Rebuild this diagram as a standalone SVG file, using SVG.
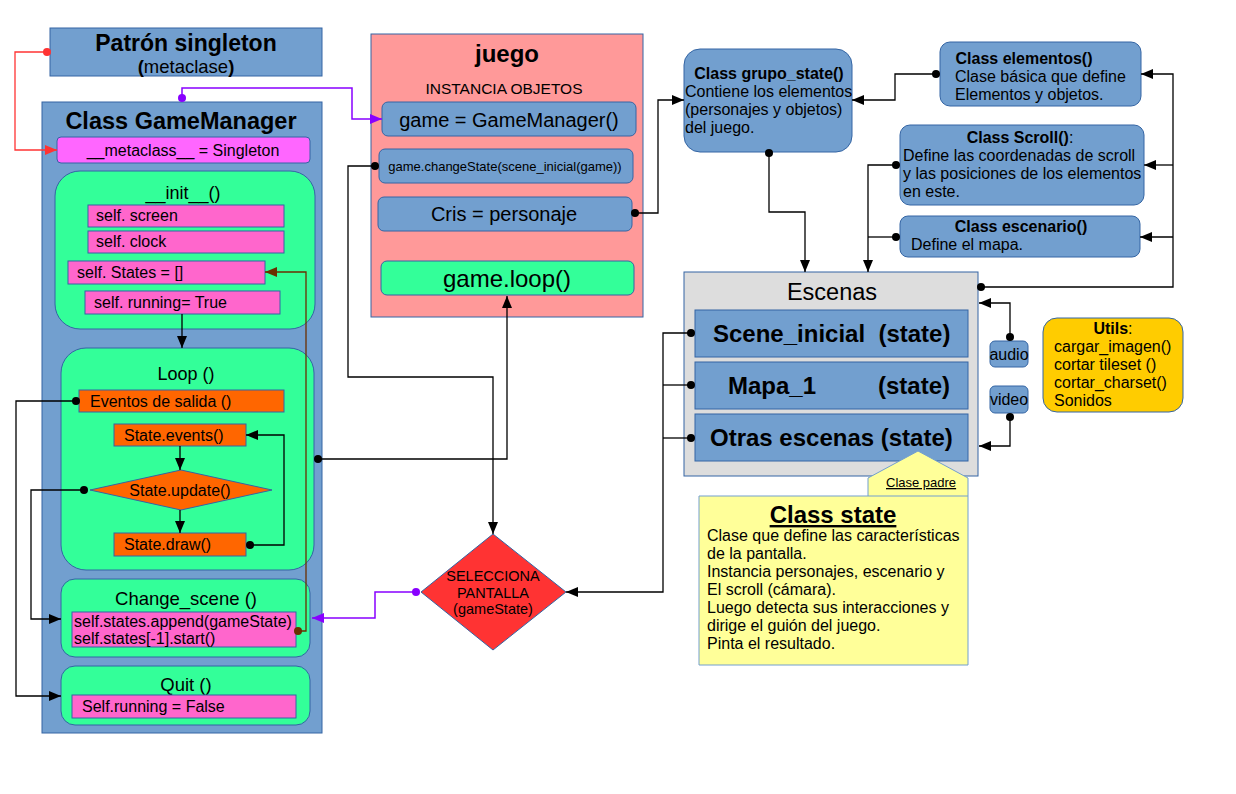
<svg xmlns="http://www.w3.org/2000/svg" width="1236" height="794" viewBox="0 0 1236 794">
<defs>
<marker id="ab" markerUnits="userSpaceOnUse" markerWidth="13" markerHeight="11" refX="12" refY="5" orient="auto"><path d="M0,0 L12,5 L0,10 z" fill="#000"/></marker>
<marker id="db" markerUnits="userSpaceOnUse" markerWidth="9" markerHeight="9" refX="4.5" refY="4.5"><circle cx="4.5" cy="4.5" r="4" fill="#000"/></marker>
<marker id="ar" markerUnits="userSpaceOnUse" markerWidth="13" markerHeight="11" refX="12" refY="5" orient="auto"><path d="M0,0 L12,5 L0,10 z" fill="#ff3333"/></marker>
<marker id="dr" markerUnits="userSpaceOnUse" markerWidth="9" markerHeight="9" refX="4.5" refY="4.5"><circle cx="4.5" cy="4.5" r="4" fill="#ff3333"/></marker>
<marker id="ap" markerUnits="userSpaceOnUse" markerWidth="13" markerHeight="11" refX="12" refY="5" orient="auto"><path d="M0,0 L12,5 L0,10 z" fill="#8800ff"/></marker>
<marker id="dp" markerUnits="userSpaceOnUse" markerWidth="9" markerHeight="9" refX="4.5" refY="4.5"><circle cx="4.5" cy="4.5" r="4" fill="#8800ff"/></marker>
<marker id="an" markerUnits="userSpaceOnUse" markerWidth="13" markerHeight="11" refX="12" refY="5" orient="auto"><path d="M0,0 L12,5 L0,10 z" fill="#6b2f00"/></marker>
<marker id="dn" markerUnits="userSpaceOnUse" markerWidth="9" markerHeight="9" refX="4.5" refY="4.5"><circle cx="4.5" cy="4.5" r="4" fill="#6b2f00"/></marker>
</defs>
<style>
text{font-family:"Liberation Sans",Arial,sans-serif;fill:#000}
.blue{fill:#729fcf;stroke:#3465a4;stroke-width:1}
.green{fill:#33ff99;stroke:#3465a4;stroke-width:1}
.pink{fill:#ff66cc;stroke:#3465a4;stroke-width:1}
.mag{fill:#ff66ff;stroke:#3465a4;stroke-width:1}
.orange{fill:#ff6600;stroke:#3465a4;stroke-width:1}
.c{text-anchor:middle}
.b{font-weight:bold}
.k{fill:none;stroke:#000;stroke-width:1.3}
.kr{fill:none;stroke:#ff3333;stroke-width:1.3}
.kp{fill:none;stroke:#8800ff;stroke-width:1.5}
.kn{fill:none;stroke:#6b2f00;stroke-width:1.3}
</style>
<rect width="1236" height="794" fill="#fff"/>

<g id="singleton">
<rect class="blue" x="50" y="28" width="272" height="48"/>
<text class="c b" x="186" y="51" font-size="23">Patrón singleton</text>
<text class="c" x="186" y="73" font-size="18.5"><tspan font-weight="bold">(</tspan>metaclase<tspan font-weight="bold">)</tspan></text>
</g>

<g id="gamemanager">
<rect class="blue" x="42" y="102" width="280" height="631"/>
<text class="c b" x="181" y="129" font-size="23.5">Class GameManager</text>
<rect class="mag" x="57" y="137" width="253" height="26" rx="4"/>
<text class="c" x="183" y="156" font-size="16">__metaclass__ = Singleton</text>
</g>

<g id="init">
<rect class="green" x="55" y="171" width="260" height="158" rx="25"/>
<text class="c" x="183" y="199" font-size="18">__init__()</text>
<rect class="pink" x="88" y="205" width="196" height="22"/>
<text x="96" y="221" font-size="16">self. screen</text>
<rect class="pink" x="88" y="231" width="196" height="22"/>
<text x="96" y="247" font-size="16">self. clock</text>
<rect class="pink" x="68" y="261" width="197" height="23"/>
<text x="77" y="278" font-size="16">self. States = []</text>
<rect class="pink" x="85" y="291" width="195" height="23"/>
<text x="94" y="308" font-size="16">self. running= True</text>
</g>

<g id="loop">
<rect class="green" x="61" y="348" width="253" height="222" rx="25"/>
<text class="c" x="186" y="380" font-size="18">Loop ()</text>
<rect class="orange" x="79" y="390" width="205" height="22"/>
<text x="90" y="407" font-size="16">Eventos de salida ()</text>
<rect class="orange" x="114" y="424" width="132" height="22"/>
<text x="124" y="441" font-size="16">State.events()</text>
<polygon class="orange" points="90,490 181,470 272,490 181,510"/>
<text class="c" x="180" y="496" font-size="16">State.update()</text>
<rect class="orange" x="114" y="533" width="132" height="23"/>
<text x="124" y="550" font-size="16">State.draw()</text>
</g>

<g id="changescene">
<rect class="green" x="61" y="579" width="249" height="78" rx="14"/>
<text class="c" x="186" y="605" font-size="18.5">Change_scene ()</text>
<rect class="pink" x="72" y="612" width="224" height="35"/>
<text x="74" y="627" font-size="16">self.states.append(gameState)</text>
<text x="74" y="644" font-size="16">self.states[-1].start()</text>
</g>

<g id="quit">
<rect class="green" x="61" y="666" width="249" height="59" rx="14"/>
<text class="c" x="186" y="691" font-size="18.5">Quit ()</text>
<rect class="pink" x="72" y="695" width="224" height="23"/>
<text x="82" y="712" font-size="16">Self.running = False</text>
</g>

<g id="juego">
<rect x="371" y="34" width="272" height="283" fill="#ff9999" stroke="#3465a4"/>
<text class="c b" x="507" y="62" font-size="24">juego</text>
<text class="c" x="504" y="94" font-size="15.5">INSTANCIA OBJETOS</text>
<rect class="blue" x="382" y="102" width="254" height="34" rx="6"/>
<text class="c" x="509" y="127" font-size="20">game = GameManager()</text>
<rect class="blue" x="379" y="149" width="254" height="34" rx="6"/>
<text class="c" x="505" y="171" font-size="13">game.changeState(scene_inicial(game))</text>
<rect class="blue" x="378" y="197" width="254" height="34" rx="6"/>
<text class="c" x="504" y="221" font-size="20">Cris = personaje</text>
<rect class="green" x="381" y="261" width="253" height="34" rx="6"/>
<text class="c" x="507" y="287" font-size="24">game.loop()</text>
</g>

<g id="selecciona">
<polygon points="421,592 493,534 566,592 493,650" fill="#ff3333" stroke="#3465a4"/>
<text class="c" x="493" y="581" font-size="14.5">SELECCIONA</text>
<text class="c" x="493" y="598" font-size="14.5">PANTALLA</text>
<text class="c" x="493" y="614" font-size="14.5">(gameState)</text>
</g>

<g id="grupo_state">
<rect class="blue" x="684" y="49" width="168" height="103" rx="16"/>
<text class="c b" x="769" y="79" font-size="16">Class grupo_state()</text>
<text x="685" y="97" font-size="16">Contiene los elementos</text>
<text x="685" y="115" font-size="16">(personajes y objetos)</text>
<text x="685" y="133" font-size="16">del juego.</text>
</g>

<g id="elementos">
<rect class="blue" x="940" y="42" width="201" height="64" rx="10"/>
<text class="c b" x="1024" y="64" font-size="16">Class elementos()</text>
<text x="955" y="82" font-size="16">Clase básica que define</text>
<text x="955" y="100" font-size="16">Elementos y objetos.</text>
</g>

<g id="scroll">
<rect class="blue" x="900" y="125" width="244" height="80" rx="10"/>
<text class="c" x="1020" y="143" font-size="16"><tspan font-weight="bold">Class Scroll()</tspan>:</text>
<text x="903" y="161" font-size="16">Define las coordenadas de scroll</text>
<text x="903" y="179" font-size="16">y las posiciones de los elementos</text>
<text x="903" y="197" font-size="16">en este.</text>
</g>

<g id="escenario">
<rect class="blue" x="900" y="216" width="240" height="41" rx="8"/>
<text class="c b" x="1021" y="232" font-size="16">Class escenario()</text>
<text x="911" y="250" font-size="16">Define el mapa.</text>
</g>

<g id="escenas">
<rect x="684" y="272" width="294" height="204" fill="#dddddd" stroke="#3465a4"/>
<text class="c" x="832" y="300" font-size="23.5">Escenas</text>
<rect class="blue" x="695" y="310" width="273" height="47"/>
<text class="b" x="713" y="342" font-size="24" xml:space="preserve">Scene_inicial  (state)</text>
<rect class="blue" x="695" y="362" width="273" height="47"/>
<text class="b" x="728" y="394" font-size="24">Mapa_1</text>
<text class="b" x="878" y="394" font-size="24">(state)</text>
<rect class="blue" x="695" y="414" width="273" height="47"/>
<text class="b" x="710" y="446" font-size="24">Otras escenas (state)</text>
</g>

<g id="audio">
<rect class="blue" x="990" y="341" width="38" height="26" rx="5"/>
<text class="c" x="1009" y="360" font-size="16">audio</text>
</g>
<g id="video">
<rect class="blue" x="990" y="386" width="38" height="27" rx="5"/>
<text class="c" x="1009" y="405" font-size="16">video</text>
</g>

<g id="utils">
<rect x="1043" y="318" width="140" height="94" rx="14" fill="#ffcc00" stroke="#3465a4"/>
<text class="c" x="1113" y="334" font-size="16"><tspan font-weight="bold">Utils</tspan>:</text>
<text x="1054" y="352" font-size="16">cargar_imagen()</text>
<text x="1054" y="370" font-size="16">cortar tileset ()</text>
<text x="1054" y="388" font-size="16">cortar_charset()</text>
<text x="1054" y="406" font-size="16">Sonidos</text>
</g>

<g id="classstate">
<path d="M699,496 H868 V478 L918,451 L968,478 V665 H699 Z" fill="#ffff99" stroke="#729fcf"/>
<line x1="868" y1="496" x2="968" y2="496" stroke="#729fcf"/>
<text x="886" y="487" font-size="13" text-decoration="underline">Clase padre</text>
<text class="c b" x="833" y="523" font-size="24" text-decoration="underline">Class state</text>
<text x="707" y="541" font-size="16">Clase que define las características</text>
<text x="707" y="559" font-size="16">de la pantalla.</text>
<text x="707" y="577" font-size="16">Instancia personajes, escenario y</text>
<text x="707" y="595" font-size="16">El scroll (cámara).</text>
<text x="707" y="613" font-size="16">Luego detecta sus interacciones y</text>
<text x="707" y="631" font-size="16">dirige el guión del juego.</text>
<text x="707" y="649" font-size="16">Pinta el resultado.</text>
</g>

<g id="connectors">
<path class="kr" d="M47,52 H15 V150 H57" marker-start="url(#dr)" marker-end="url(#ar)"/>
<path class="kp" d="M182,98 V88 H352 V119 H382" marker-start="url(#dp)" marker-end="url(#ap)"/>
<path class="kp" d="M416,592 H375 V618 H312" marker-start="url(#dp)" marker-end="url(#ap)"/>
<path class="kn" d="M298,631 H306 V272 H265" marker-start="url(#dn)" marker-end="url(#an)"/>
<path class="k" d="M182,314 V348" marker-end="url(#ab)"/>
<path class="k" d="M180,446 V470" marker-end="url(#ab)"/>
<path class="k" d="M180,510 V533" marker-end="url(#ab)"/>
<path class="k" d="M250,545 H284 V435 H246" marker-start="url(#db)" marker-end="url(#ab)"/>
<path class="k" d="M76,401 H16 V696 H61" marker-start="url(#db)" marker-end="url(#ab)"/>
<path class="k" d="M84,490 H31 V619 H61" marker-start="url(#db)" marker-end="url(#ab)"/>
<path class="k" d="M375,166 H348 V377 H493 V534" marker-start="url(#db)" marker-end="url(#ab)"/>
<path class="k" d="M318,459 H507 V296" marker-start="url(#db)" marker-end="url(#ab)"/>
<path class="k" d="M635,213 H658 V100 H684" marker-start="url(#db)" marker-end="url(#ab)"/>
<path class="k" d="M769,153 V212 H805 V272" marker-start="url(#db)" marker-end="url(#ab)"/>
<path class="k" d="M936,74 H895 V100 H852" marker-start="url(#db)" marker-end="url(#ab)"/>
<path class="k" d="M896,165 H868 V272" marker-start="url(#db)" marker-end="url(#ab)"/>
<path class="k" d="M896,237 H868" marker-start="url(#db)"/>
<path class="k" d="M981,287 H1173 V74 H1141" marker-start="url(#db)" marker-end="url(#ab)"/>
<path class="k" d="M1173,165 H1144" marker-end="url(#ab)"/>
<path class="k" d="M1173,237 H1140" marker-end="url(#ab)"/>
<path class="k" d="M1010,337 V303 H979" marker-start="url(#db)" marker-end="url(#ab)"/>
<path class="k" d="M1010,417 V446 H979" marker-start="url(#db)" marker-end="url(#ab)"/>
<path class="k" d="M691,333 H663 V592 H566" marker-start="url(#db)" marker-end="url(#ab)"/>
<path class="k" d="M691,385 H663" marker-start="url(#db)"/>
<path class="k" d="M691,438 H663" marker-start="url(#db)"/>
</g>
</svg>
